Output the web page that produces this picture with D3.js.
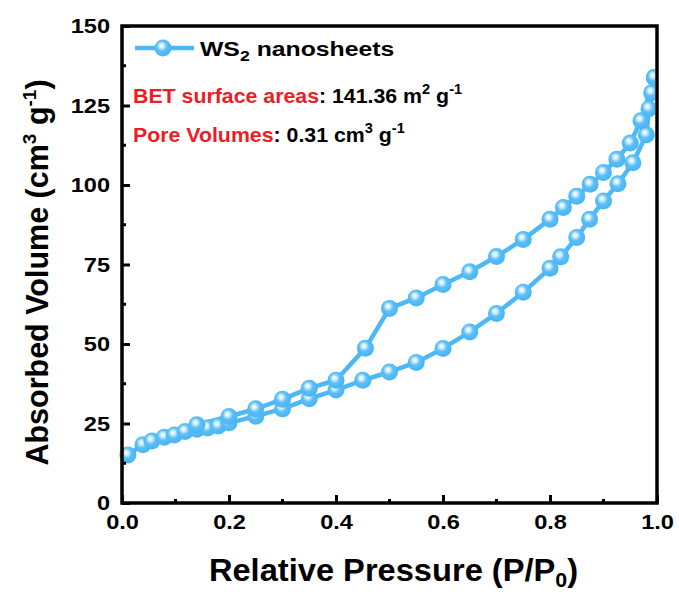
<!DOCTYPE html>
<html>
<head>
<meta charset="utf-8">
<script src="https://cdn.jsdelivr.net/npm/d3@7"></script>
<style>
  html, body { margin: 0; padding: 0; background: #fff; }
  svg { display: block; font-family: "Liberation Sans", Arial, sans-serif; font-weight: bold; }
</style>
</head>
<body>
<svg id="chart" width="679" height="592"></svg>
<script>
// N2 adsorption / desorption isotherm of WS2 nanosheets
const adsorptionP = [0.011, 0.039, 0.056, 0.079, 0.098, 0.118, 0.14, 0.16, 0.18, 0.2, 0.25, 0.3, 0.35, 0.4, 0.45, 0.5, 0.55, 0.6, 0.65, 0.7, 0.75, 0.8, 0.82, 0.85, 0.874, 0.9, 0.927, 0.955, 0.98, 0.985, 0.99, 0.995];
const adsorptionV = [15.1, 18.3, 19.5, 20.7, 21.4, 22.5, 23.2, 23.6, 24.2, 25.2, 27.3, 29.6, 32.8, 35.5, 38.6, 41.2, 44.2, 48.6, 53.8, 59.6, 66.3, 73.8, 77.4, 83.5, 89.2, 95.0, 100.4, 107.0, 115.8, 124.0, 129.0, 133.8];
const desorptionP = [0.995, 0.97, 0.95, 0.925, 0.9, 0.875, 0.85, 0.825, 0.8, 0.75, 0.7, 0.65, 0.6, 0.55, 0.5, 0.455, 0.4, 0.35, 0.3, 0.25, 0.2, 0.14];
const desorptionV = [133.8, 120.2, 113.2, 108.1, 103.9, 100.2, 96.5, 92.9, 89.2, 82.9, 77.5, 72.7, 68.7, 64.5, 61.2, 48.7, 38.6, 36.1, 32.6, 29.6, 27.2, 24.6];

const xTicks = [0.0, 0.2, 0.4, 0.6, 0.8, 1.0];
const xMinorTicks = [0.1, 0.3, 0.5, 0.7, 0.9];
const yTicks = [0, 25, 50, 75, 100, 125, 150];
const yMinorTicks = [12.5, 37.5, 62.5, 87.5, 112.5, 137.5];

const seriesName = "WS";
const betLabel = "BET surface areas";
const betValue = ": 141.36 m";
const poreLabel = "Pore Volumes";
const poreValue = ": 0.31 cm";

const svg = d3.select("#chart");
const margin = { left: 122, right: 22, top: 26, bottom: 89 };
const W = 679, H = 592;

const x = d3.scaleLinear().domain([0, 1]).range([margin.left, W - margin.right]);
const y = d3.scaleLinear().domain([0, 150]).range([H - margin.bottom, margin.top]);

const blue = "#4DB8F6";
const tickFont = 20.5, tickStretch = 1.15;

// sphere-like marker fill
const defs = svg.append("defs");
const grad = defs.append("radialGradient").attr("id", "ball")
  .attr("cx", "0.45").attr("cy", "0.42").attr("r", "0.6").attr("fx", "0.4").attr("fy", "0.36");
grad.append("stop").attr("offset", "0").attr("stop-color", "#ffffff");
grad.append("stop").attr("offset", "0.2").attr("stop-color", "#d6f0fd");
grad.append("stop").attr("offset", "0.5").attr("stop-color", "#5cbff7");
grad.append("stop").attr("offset", "1").attr("stop-color", "#45b3f3");

const clip = defs.append("clipPath").attr("id", "plotClip");
clip.append("rect").attr("x", x(0) - 12).attr("y", y(150)).attr("width", x(1) - x(0) + 10).attr("height", y(0) - y(150) + 12);

const line = d3.line().x(d => x(d[0])).y(d => y(d[1]));
const ads = adsorptionP.map((p, i) => [p, adsorptionV[i]]);
const des = desorptionP.map((p, i) => [p, desorptionV[i]]);

const plot = svg.append("g").attr("clip-path", "url(#plotClip)");
[ads, des].forEach(data => {
  plot.append("path").datum(data).attr("d", line)
    .attr("fill", "none").attr("stroke", blue).attr("stroke-width", 4.5).attr("stroke-linejoin", "round");
});
[ads, des].forEach(data => {
  plot.selectAll(null).data(data).enter().append("circle")
    .attr("cx", d => x(d[0])).attr("cy", d => y(d[1])).attr("r", 8.5)
    .attr("fill", "url(#ball)");
});

// axes with inward ticks
const xAxis = svg.append("g").attr("transform", `translate(0,${y(0)})`)
  .call(d3.axisBottom(x).tickValues(xTicks).tickFormat(d3.format(".1f")).tickSizeInner(-8).tickSizeOuter(0).tickPadding(11));
xAxis.append("g").selectAll("line").data(xMinorTicks).enter().append("line")
  .attr("x1", d => x(d)).attr("x2", d => x(d)).attr("y1", 0).attr("y2", -4)
  .attr("stroke", "#000").attr("stroke-width", 3);

const yAxis = svg.append("g").attr("transform", `translate(${x(0)},0)`)
  .call(d3.axisLeft(y).tickValues(yTicks).tickFormat(d3.format("d")).tickSizeInner(-8).tickSizeOuter(0).tickPadding(12));
yAxis.append("g").selectAll("line").data(yMinorTicks).enter().append("line")
  .attr("y1", d => y(d)).attr("y2", d => y(d)).attr("x1", 0).attr("x2", 4)
  .attr("stroke", "#000").attr("stroke-width", 3);

[xAxis, yAxis].forEach(a => {
  a.select(".domain").remove();
  a.selectAll(".tick line").attr("stroke", "#000").attr("stroke-width", 3);
  a.selectAll(".tick text").attr("font-size", tickFont).attr("font-weight", "bold")
    .attr("font-family", "Liberation Sans, Arial, sans-serif").attr("fill", "#000");
});
xAxis.selectAll(".tick text").attr("dy", "0.71em").attr("transform", `scale(${tickStretch},1)`);
yAxis.selectAll(".tick text").attr("x", -12 / tickStretch).attr("transform", `scale(${tickStretch},1)`);

// frame
svg.append("rect").attr("x", x(0)).attr("y", y(150)).attr("width", x(1) - x(0)).attr("height", y(0) - y(150))
  .attr("fill", "none").attr("stroke", "#000").attr("stroke-width", 3.5);

// axis titles
const xt = svg.append("g").attr("transform", `translate(${(x(0) + x(1)) / 2 + 4},581) scale(1.07,1)`)
  .append("text").attr("text-anchor", "middle").attr("font-size", 30.5).attr("fill", "#000");
xt.append("tspan").text("Relative Pressure (P/P");
xt.append("tspan").attr("font-size", 20).attr("dy", 6).text("0");
xt.append("tspan").attr("dy", -6).text(")");

const yt = svg.append("text").attr("transform", `translate(48,${(y(0) + y(150)) / 2 + 8}) rotate(-90)`)
  .attr("text-anchor", "middle").attr("font-size", 30.5).attr("fill", "#000");
yt.append("tspan").text("Absorbed Volume (cm");
yt.append("tspan").attr("font-size", 19).attr("dy", -12).text("3");
yt.append("tspan").attr("dy", 12).text(" g");
yt.append("tspan").attr("font-size", 19).attr("dy", -12).text("-1");
yt.append("tspan").attr("dy", 12).text(")");

// legend
const lg = svg.append("g");
lg.append("line").attr("x1", 135).attr("x2", 194).attr("y1", 48).attr("y2", 48)
  .attr("stroke", blue).attr("stroke-width", 4.5);
lg.append("circle").attr("cx", 163).attr("cy", 48).attr("r", 8.5).attr("fill", "url(#ball)");
const lt = lg.append("g").attr("transform", "translate(200,56) scale(1.18,1)")
  .append("text").attr("font-size", 21).attr("fill", "#000");
lt.append("tspan").text(seriesName);
lt.append("tspan").attr("font-size", 15).attr("dy", 5).text("2");
lt.append("tspan").attr("dy", -5).text(" nanosheets");

// annotations
function note(yPos, label, value, unitExp) {
  const t = svg.append("g").attr("transform", `translate(133,${yPos}) scale(1.04,1)`)
    .append("text").attr("font-size", 20.5).attr("fill", "#000");
  t.append("tspan").attr("fill", "#EE1C24").text(label);
  t.append("tspan").text(value);
  t.append("tspan").attr("font-size", 14).attr("dy", -9).text(unitExp);
  t.append("tspan").attr("dy", 9).text(" g");
  t.append("tspan").attr("font-size", 14).attr("dy", -9).text("-1");
}
note(103, betLabel, betValue, "2");
note(142, poreLabel, poreValue, "3");
</script>
</body>
</html>
